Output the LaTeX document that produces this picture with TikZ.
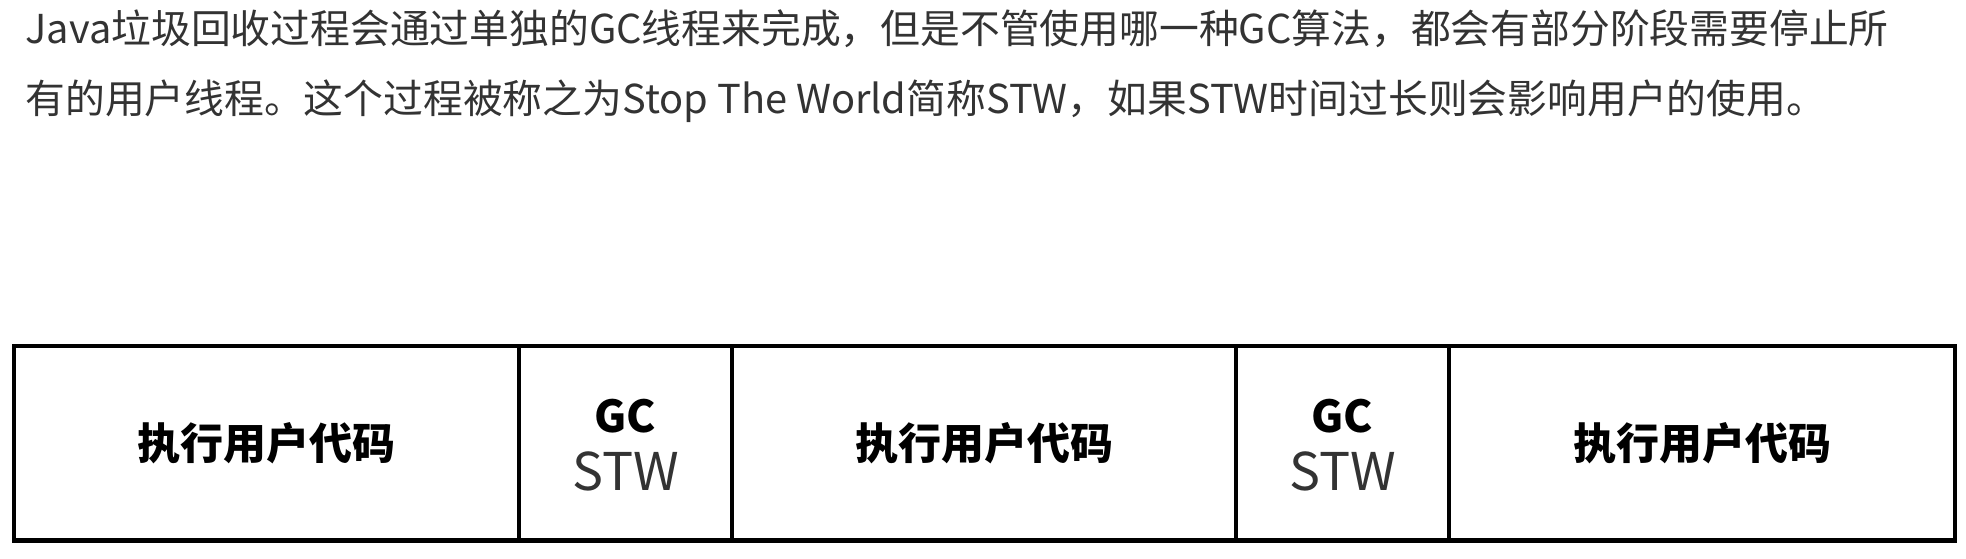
\documentclass[tikz,border=0pt]{standalone}
\usepackage{fontspec}
\setmainfont{Noto Sans CJK SC}
\usepackage{tikz}
\definecolor{txtgray}{HTML}{333333}

\begin{document}
\begin{tikzpicture}[x=0.5pt, y=-0.5pt,
    para/.style={anchor=base west, inner sep=0pt, text=txtgray, font=\fontsize{19.9}{35}\selectfont},
    run/.style={draw, line width=2.15pt, minimum width=252.5pt, minimum height=97.25pt, inner sep=0pt, font=\fontsize{21.5}{24}\selectfont\bfseries},
    pause/.style={draw, line width=2.15pt, minimum width=106.5pt, minimum height=97.25pt, inner sep=0pt},
    gclbl/.style={anchor=base, inner sep=0pt, font=\fontsize{22}{24}\selectfont\bfseries},
    stwlbl/.style={anchor=base, inner sep=0pt, text=txtgray, font=\fontsize{26}{28}\selectfont}
]
\useasboundingbox (0,0) rectangle (1966,558);

\node[para] (lineA) at (25,43)  {Java垃圾回收过程会通过单独的GC线程来完成，但是不管使用哪一种GC算法，都会有部分阶段需要停止所};
\node[para] (lineB) at (25,113) {有的用户线程。这个过程被称之为Stop The World简称STW，如果STW时间过长则会影响用户的使用。};

\node[run]   (run1) at (266.5,443.25)  {执行用户代码};
\node[pause] (gc1)  at (625.5,443.25)  {};
\node[run, minimum width=252pt] (run2) at (984,443.25) {执行用户代码};
\node[pause] (gc2)  at (1342.5,443.25) {};
\node[run, minimum width=253pt] (run3) at (1702,443.25) {执行用户代码};

\node[gclbl]  (gcA)  at (625.5,432)  {GC};
\node[stwlbl] (stwA) at (625.5,490)  {STW};
\node[gclbl]  (gcB)  at (1342.5,432) {GC};
\node[stwlbl] (stwB) at (1342.5,490) {STW};
\end{tikzpicture}
\end{document}
